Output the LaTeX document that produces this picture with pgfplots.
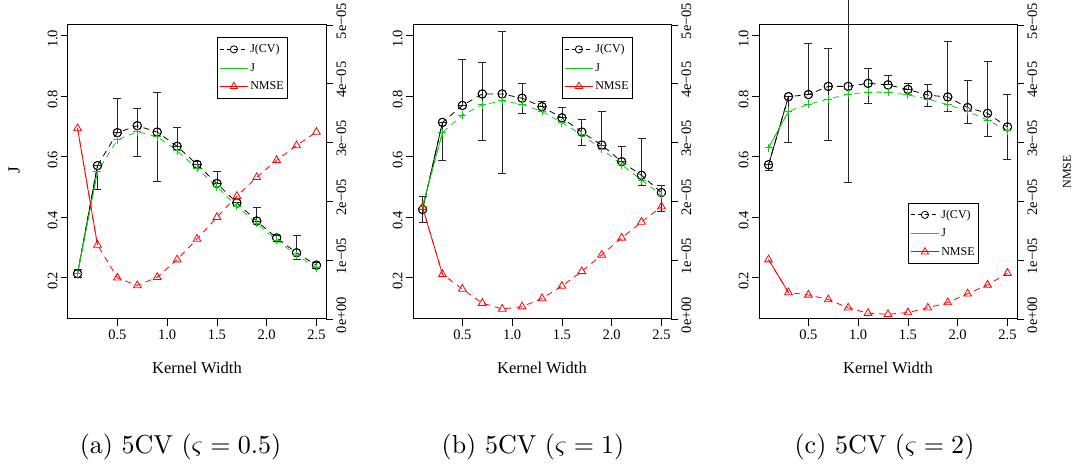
\documentclass[border=0pt]{standalone}
\usepackage{fontspec}
\usepackage{pgfplots}
\usepackage{pgfplotstable}
\pgfplotsset{compat=1.18}
\newfontfamily\rf{Liberation Serif}
\definecolor{Rgreen}{RGB}{20,200,20}
\definecolor{Rred}{RGB}{255,0,0}

% x  J(CV)  J  errlo  errhi  NMSE
\pgfplotstableread{
x jcv j lo hi nmse
0.1 0.214 0.214 0.200 0.228 3.24e-5
0.3 0.571 0.551 0.492 0.571 1.26e-5
0.5 0.680 0.656 0.680 0.793 0.70e-5
0.7 0.703 0.683 0.600 0.760 0.57e-5
0.9 0.682 0.667 0.520 0.812 0.71e-5
1.1 0.635 0.620 0.635 0.697 1.01e-5
1.3 0.575 0.562 0.575 0.585 1.36e-5
1.5 0.512 0.501 0.512 0.551 1.73e-5
1.7 0.448 0.437 0.448 0.448 2.09e-5
1.9 0.388 0.380 0.388 0.433 2.41e-5
2.1 0.332 0.325 0.322 0.342 2.70e-5
2.3 0.283 0.275 0.260 0.341 2.95e-5
2.5 0.242 0.234 0.232 0.252 3.18e-5
}\dataA
\pgfplotstableread{
x jcv j lo hi nmse
0.1 0.426 0.437 0.382 0.470 1.90e-5
0.3 0.714 0.680 0.588 0.714 0.76e-5
0.5 0.770 0.738 0.770 0.921 0.51e-5
0.7 0.808 0.772 0.654 0.912 0.27e-5
0.9 0.808 0.785 0.545 1.014 0.17e-5
1.1 0.794 0.774 0.744 0.843 0.21e-5
1.3 0.766 0.750 0.766 0.783 0.35e-5
1.5 0.729 0.713 0.729 0.764 0.56e-5
1.7 0.682 0.673 0.637 0.724 0.81e-5
1.9 0.639 0.626 0.639 0.750 1.09e-5
2.1 0.584 0.574 0.584 0.634 1.38e-5
2.3 0.539 0.523 0.506 0.660 1.65e-5
2.5 0.482 0.474 0.421 0.507 1.91e-5
}\dataB
\pgfplotstableread{
x jcv j lo hi nmse
0.1 0.574 0.630 0.554 0.574 1.01e-5
0.3 0.799 0.750 0.647 0.799 0.45e-5
0.5 0.806 0.774 0.806 0.976 0.41e-5
0.7 0.833 0.791 0.656 0.959 0.33e-5
0.9 0.833 0.807 0.516 1.120 0.19e-5
1.1 0.843 0.814 0.777 0.893 0.10e-5
1.3 0.838 0.814 0.838 0.868 0.08e-5
1.5 0.823 0.805 0.823 0.843 0.11e-5
1.7 0.804 0.791 0.766 0.838 0.19e-5
1.9 0.798 0.773 0.750 0.981 0.28e-5
2.1 0.763 0.750 0.711 0.853 0.43e-5
2.3 0.744 0.722 0.669 0.917 0.58e-5
2.5 0.699 0.687 0.592 0.808 0.78e-5
}\dataC

\pgfplotsset{
  base/.style={
    scale only axis, width=258pt, height=294pt, anchor=south west,
    xmin=0.004, xmax=2.596,
    tick align=outside, major tick length=7pt,
    every tick/.append style={black, line width=0.8pt},
    tick label style={font=\fontsize{14.5}{17}\selectfont\rf},
    axis line style={line width=1pt},
    scaled y ticks=false, scaled x ticks=false,
  },
  leftax/.style={
    base,
    ymin=0.064, ymax=1.036,
    xtick={0.5,1.0,1.5,2.0,2.5}, xticklabels={0.5,1.0,1.5,2.0,2.5},
    ytick={0.2,0.4,0.6,0.8,1.0}, yticklabels={0.2,0.4,0.6,0.8,1.0},
    xtick pos=bottom, ytick pos=left,
    yticklabel style={rotate=90, anchor=south, xshift=-3pt},
    xlabel={Kernel Width},
    xlabel style={font=\fontsize{16.5}{19}\selectfont\rf, at={(axis description cs:0.5,-0.167)}, anchor=center},
    clip=false,
  },
  rightax/.style={
    base,
    ymin=0, ymax=5e-5,
    axis x line=none, axis y line*=right,
    ytick={0,1e-5,2e-5,3e-5,4e-5,5e-5},
    yticklabels={0e+00,1e−05,2e−05,3e−05,4e−05,5e−05},
    yticklabel style={rotate=90, anchor=north, xshift=4pt},
    legend style={draw=black, line width=0.8pt, font=\fontsize{12}{14}\selectfont\rf,
      anchor=north west, inner xsep=2pt, inner ysep=5pt, row sep=5pt, cells={anchor=west}},
    legend cell align=left,
    legend image code/.code={\draw[mark repeat=2,mark phase=2,#1] plot coordinates {(0pt,0pt) (14pt,0pt) (28pt,0pt)};},
  },
  ebar/.style={forget plot, only marks, mark=o, mark size=4.2pt, black,
    mark options={solid, line width=0.8pt},
    error bars/.cd, y dir=both, y explicit, error mark=-,
    error mark options={rotate=90, black!85, mark size=4pt, line width=0.8pt},
    error bar style={black!85, line width=0.8pt}},
  cvline/.style={forget plot, black, line width=0.8pt, dash pattern=on 6pt off 5pt, mark=o, mark size=4.2pt, mark options={solid, line width=0.8pt}},
  jline/.style={forget plot, Rgreen, line width=0.8pt, dash pattern=on 6pt off 5pt, mark=+, mark size=4pt, mark options={solid, line width=0.9pt}},
  nline/.style={forget plot, Rred, line width=0.8pt, dash pattern=on 6pt off 5pt, mark=triangle, mark size=4.5pt, mark options={solid, line width=0.8pt}},
  first/.style={forget plot, solid, line width=0.8pt, mark=none, skip coords between index={2}{20}},
}

\newcommand{\leftplots}[1]{%
  \addplot[ebar] table[x=x, y=jcv, y error plus expr={\thisrow{hi}-\thisrow{jcv}}, y error minus expr={\thisrow{jcv}-\thisrow{lo}}] {#1};
  \addplot[cvline] table[x=x, y=jcv] {#1};
  \addplot[first, black] table[x=x, y=jcv] {#1};
  \addplot[jline] table[x=x, y=j] {#1};
  \addplot[first, Rgreen] table[x=x, y=j] {#1};
}
\newcommand{\rightplots}[1]{%
  \addplot[nline] table[x=x, y=nmse] {#1};
  \addplot[first, Rred] table[x=x, y=nmse] {#1};
  \addlegendimage{black, line width=0.8pt, dash pattern=on 4pt off 3pt, mark=o, mark size=3.6pt, mark options={solid}}
  \addlegendentry{J(CV)}
  \addlegendimage{Rgreen, line width=0.8pt}
  \addlegendentry{J}
  \addlegendimage{Rred, line width=0.8pt, mark=triangle, mark size=4.2pt, mark options={solid}}
  \addlegendentry{NMSE}
}

\begin{document}
\begin{tikzpicture}
\useasboundingbox (0pt,0pt) rectangle (1077pt,465pt);

% ---------- panel (a)
\begin{axis}[leftax, at={(68pt,146pt)},
  ylabel={J}, ylabel style={font=\fontsize{17}{20}\selectfont\rf, at={(axis description cs:-0.209,0.507)}, anchor=center}]
  \leftplots{\dataA}
\end{axis}
\begin{axis}[rightax, at={(68pt,146pt)}, legend style={at={(0.578,0.959)}}]
  \rightplots{\dataA}
\end{axis}

% ---------- panel (b)
\begin{axis}[leftax, at={(413pt,146pt)}]
  \leftplots{\dataB}
\end{axis}
\begin{axis}[rightax, at={(413pt,146pt)}, legend style={at={(0.578,0.959)}}]
  \rightplots{\dataB}
\end{axis}

% ---------- panel (c)
\begin{axis}[leftax, at={(759pt,146pt)}]
  \leftplots{\dataC}
\end{axis}
\begin{axis}[rightax, at={(759pt,146pt)}, legend style={at={(0.578,0.396)}}]
  \rightplots{\dataC}
\end{axis}
\node[rotate=90, anchor=center, font=\fontsize{12}{14}\selectfont\rf] at (1067pt,293pt) {NMSE};

\node[anchor=base, scale=2.6] at (180.5pt,11.5pt) {(a) 5CV ($\varsigma = 0.5$)};
\node[anchor=base, scale=2.6] at (533pt,11.5pt) {(b) 5CV ($\varsigma = 1$)};
\node[anchor=base, scale=2.6] at (884.5pt,11.5pt) {(c) 5CV ($\varsigma = 2$)};
\end{tikzpicture}
\end{document}
